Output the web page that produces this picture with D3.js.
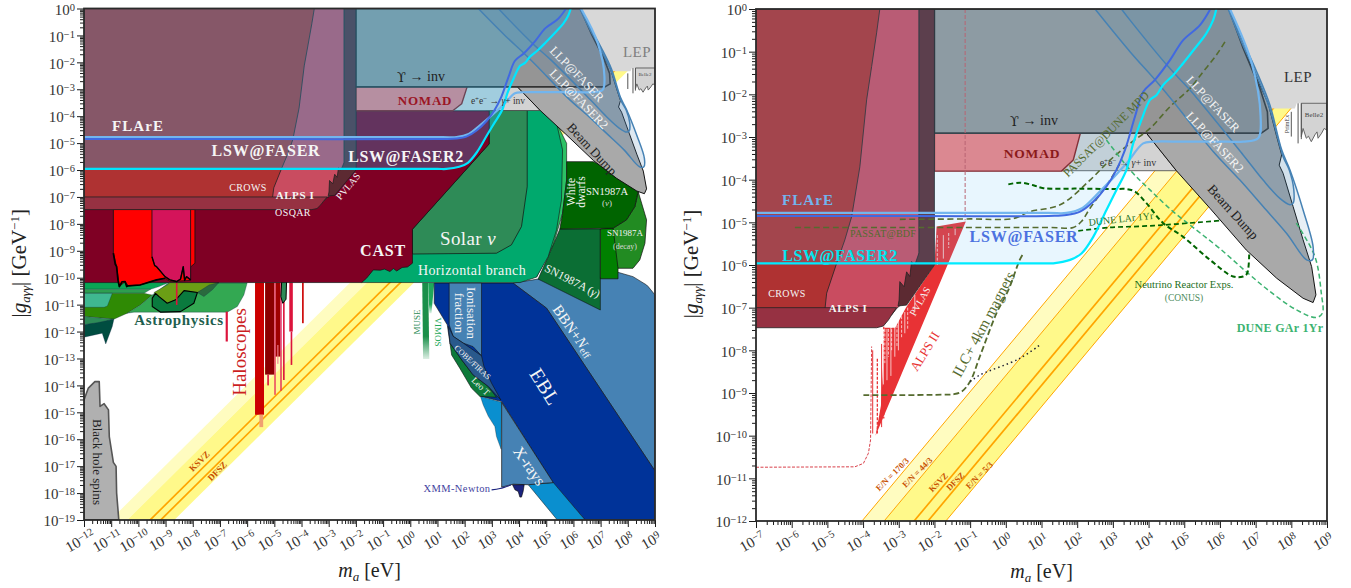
<!DOCTYPE html>
<html><head><meta charset="utf-8">
<script src="https://cdn.jsdelivr.net/npm/d3@7/dist/d3.min.js"></script>
<style>html,body{margin:0;padding:0;background:#fff}svg{display:block}text{font-family:"Liberation Serif",serif}</style>
</head><body><svg id="c" width="1351" height="588"></svg>
<script>
// All coordinates are [log10(m_a/eV), log10(g/GeV^-1)]
const xDecadesLeft=[-12,9], yDecadesLeft=[0,-19], xDecadesRight=[-7,9], yDecadesRight=[0,-12];
const qcdOffsets={e170:-7.97,e44:-8.59,ksvz:-9.43,dfsz:-9.82,e5:-10.32};

const crows=[[-12,0],[-3.53,0],[-3.62,-.56],[-3.76,-1.35],[-3.9,-2.13],[-4.09,-3.7],[-4.32,-4.87],[-4.51,-5.41],[-4.74,-5.96],[-5.02,-6.66],[-5.11,-7.37],[-5.39,-7.17],[-5.77,-7.05],[-6.33,-7.03],[-12,-7.03]];
const alpsI=[[-12,0],[-2.43,0],[-2.43,-6],[-2.9,-6.9],[-3.06,-7.02],[-3.2,-7.17],[-3.53,-7.19],[-12,-7.19]];
const osqar=[[-12,-7],[-3.06,-7],[-3.2,-7.17],[-3.29,-7.29],[-3.43,-7.43],[-3.62,-7.47],[-12,-7.47]];
const pvlas=[[-3.02,-6.96],[-2.99,-6.82],[-2.97,-6.39],[-2.85,-6.51],[-2.78,-6.16],[-2.69,-6.27],[-2.64,-5.92],[-2.55,-6],[-2.43,-5.71],[-2.43,0],[-2,0],[-2,-6],[-2.78,-6.94]];
const cast=[[-12,-7.4],[-3,-7],[-2,-6],[-2,-3.8],[2.9,-3.8],[2.9,-5.03],[.08,-8.2],[.08,-9.46],[-.1,-9.6],[-.3,-9.62],[-.5,-9.75],[-.62,-9.66],[-.75,-9.77],[-.95,-9.68],[-1.1,-9.72],[-1.36,-9.71],[-1.61,-10.02],[-1.79,-10.18],[-12,-10.18]];
const solar=[[.08,-8.2],[2.9,-5.03],[2.9,-3.77],[4.3,-3.77],[4.3,-6.62],[4.09,-8.1],[3.72,-8.78],[3.17,-9.09],[.08,-9.12]];
const horizontalBranch=[[-1.79,-10.18],[4.03,-10.18],[4.64,-9.98],[5.07,-9.22],[5.38,-8.22],[5.56,-7.11],[5.6,-5.25],[5.38,-4.26],[5.01,-3.83],[4.77,-3.64],[2.9,-3.64]];
const whiteDwarfs=[[4.64,-9.98],[5.26,-8.78],[5.6,-7.61],[5.75,-6.37],[5.75,-5.01],[5.38,-4.26],[5,-5],[5,-9]];
const snNu=[[5.75,-5.69],[6.73,-5.69],[7.58,-6.06],[8.38,-6.8],[8.26,-7.36],[7.95,-7.85],[7.46,-8.16],[5.5,-8.19],[5.6,-7.61],[5.75,-6.37]];
const snGamma=[[5.5,-8.19],[6.99,-8.19],[6.99,-11.2],[4.7,-10.05],[5.26,-8.78]];
const snDecayInner=[[6.99,-8.19],[7.46,-8.16],[7.64,-9.65],[7.64,-10.04],[6.99,-10.04]];
const snDecayOuter=[[8.38,-6.8],[8.69,-7.85],[8.63,-8.72],[8.44,-9.34],[8.19,-9.65],[7.64,-9.65],[7.27,-8.72],[7,-8.19],[7.46,-8.16],[7.95,-7.85],[8.26,-7.36]];
const bbn=[[3.78,-10.2],[5.01,-11.13],[8.99,-17.16],[9,-10.64],[8.75,-10.33],[8.69,-10.27],[8.19,-9.96],[7.64,-9.8],[7,-10],[4.7,-10.05]];
const ebl=[[.88,-10.2],[.88,-10.95],[1.36,-11.75],[1.46,-12.43],[2.62,-14.41],[3.36,-14.6],[5.26,-17.63],[6.42,-18.99],[9,-18.99],[8.99,-17.16],[5.01,-11.13],[3.78,-10.2]];
const ionisation=[[1.43,-10.2],[2.62,-10.2],[2.62,-12.9],[2.31,-12.56],[1.95,-12.43],[1.58,-12.18],[1.43,-11.75]];
const cobe=[[1.4,-11.81],[1.58,-12.18],[1.95,-12.43],[2.62,-12.9],[2.71,-13.3],[2.99,-13.92],[3.33,-14.54],[2.87,-14.04],[2.31,-13.61],[1.89,-13.05],[1.46,-12.43]];
const leoT=[[1.46,-12.43],[1.89,-13.05],[2.31,-13.61],[2.87,-14.04],[3.17,-14.44],[2.56,-14.41],[2.25,-14.1],[1.82,-13.36],[1.52,-12.87]];
const xrays=[[3.36,-14.63],[5.26,-17.61],[4.34,-17.69],[3.78,-17.67],[3.36,-17.78]];
const xrayBlueA=[[2.58,-14.41],[3.36,-14.63],[3.34,-16.37],[3.17,-15.9],[3.11,-15.53],[2.87,-15.15],[2.68,-14.72]];
const xrayBlueB=[[4.34,-17.69],[5.26,-17.61],[6.42,-18.99],[5.4,-18.99]];
const xmm=[[3.76,-17.69],[3.85,-17.88],[3.97,-17.94],[4.03,-18.15],[4.09,-18.15],[4.15,-17.94],[4.19,-17.69]];
const xmmLeader=[[2.99,-17.88],[3.3,-17.83],[3.7,-17.7]];
const muse=[[.44,-10.2],[.66,-10.2],[.7,-13.02],[.47,-13.02]];
const vimos=[[.66,-10.2],[.88,-10.2],[.78,-11.32],[.7,-11.32]];
const astroBand1=[[-12,-10.18],[-8.875,-10.18],[-9.24,-10.33],[-9.55,-10.43],[-12,-10.43]];
const astroBand2=[[-12,-10.43],[-9.55,-10.43],[-9.79,-10.58],[-12,-10.58]];
const astroOlive=[[-12,-10.58],[-9.79,-10.58],[-9.49,-10.64],[-9.92,-11.01],[-10.41,-11.32],[-10.9,-11.54],[-12,-11.44]];
const astroTeal=[[-12,-10.58],[-10.96,-10.58],[-11.14,-11.05],[-11.26,-11.1],[-12,-11.1]];
const astroGreen=[[-10.41,-11.32],[-10.16,-11.28],[-6.73,-11.28],[-6.36,-11.07],[-6.12,-10.64],[-6,-10.2],[-8.9,-10.2],[-9.49,-10.64],[-9.92,-11.01]];
const astroLime=[[-9.43,-10.55],[-8.94,-10.27],[-8.84,-10.18],[-7.04,-10.18],[-7.47,-10.39],[-7.83,-10.55],[-8.32,-10.48],[-8.63,-10.82],[-8.94,-10.95],[-9.24,-10.7]];
const astroDark=[[-9.37,-10.58],[-9.49,-10.76],[-9.49,-11.07],[-9.18,-11.28],[-8.45,-11.26],[-7.96,-10.95],[-7.83,-10.55],[-8.32,-10.48],[-8.63,-10.82],[-8.94,-10.95],[-9.24,-10.7]];
const astroForest=[[-7.83,-10.55],[-7.4,-10.27],[-7.04,-10.18],[-7.28,-10.45],[-7.59,-10.7]];
const astroLow1=[[-12,-11.44],[-10.9,-11.54],[-11.39,-11.69],[-12,-11.75]];
const astroLow2=[[-12,-11.75],[-11.51,-11.67],[-10.9,-11.54],[-10.96,-11.81],[-11.2,-12.46],[-11.33,-12.06],[-12,-12.21]];
const haloFill=[[-4.73,-10.14],[-4.55,-10.14],[-4.57,-10.8],[-4.69,-10.95],[-4.76,-10.7]];
const redRegion=[[-10.92,-7.46],[-7.92,-7.46],[-7.92,-9.46],[-8.08,-9.6],[-8.08,-10.1],[-8.84,-10.14],[-9.02,-10.02],[-9.33,-10.08],[-9.94,-10.27],[-10.37,-10.3],[-10.49,-10.14],[-10.7,-10.33],[-10.8,-9.59],[-10.92,-9.09]];
const redNoise=[[-10.92,-9.09],[-10.85,-9.5],[-10.8,-9.59],[-10.75,-10.1],[-10.7,-10.33],[-10.6,-10.15],[-10.49,-10.14],[-10.43,-10.33],[-10.37,-10.3],[-9.94,-10.27],[-9.33,-10.08],[-9.02,-10.02]];
const magentaRegion=[[-9.5,-7.46],[-8.08,-7.46],[-8.08,-10.08],[-8.23,-9.96],[-8.3,-10.1],[-8.35,-9.59],[-8.45,-10.05],[-8.59,-10.14],[-8.84,-10.08],[-9.02,-9.96],[-9.33,-9.59],[-9.4,-9.55],[-9.5,-9.22]];
const haloLines=[[-8.62,-8.56,-10.18,-11.01,"#dc143c"],[-6.79,-6.71,-11.26,-12.37,"#dc143c"],[-5.71,-5.38,-10.18,-15.09,"#cc0000"],[-5.55,-5.41,-15.09,-15.55,"#f0a070"],[-5.34,-5,-10.18,-13.6,"#8b0000"],[-5.26,-5.2,-13.6,-14,"#dc143c"],[-5,-4.95,-10.18,-14.35,"#e8305a"],[-4.95,-4.78,-10.18,-12.93,"#a00000"],[-4.89,-4.85,-12.5,-13.2,"#f08090"],[-4.78,-4.73,-10.18,-14.2,"#e0205a"],[-4.68,-4.62,-10.18,-13.8,"#dc143c"],[-4.45,-4.32,-10.18,-12,"#dc143c"],[-4.4,-4.34,-12,-13.24,"#dc143c"],[-3.98,-3.92,-10.18,-11.69,"#cc0000"]];
const blackHole=[[-12,-19],[-12,-14.54],[-11.84,-14.1],[-11.6,-13.86],[-11.44,-13.86],[-11.41,-14.78],[-11.26,-14.68],[-11.1,-14.91],[-11.07,-15.9],[-10.92,-16.86],[-10.82,-17.01],[-10.8,-18],[-10.72,-19]];

const upsilon=[[-2,0],[6.25,0],[6.65,-.92],[7.12,-1.86],[7.33,-2.41],[7.35,-2.8],[7.16,-2.91],[-2,-2.91]];
const lep=[[4,0],[9,0],[9,-2.21],[8.15,-2.21],[8.1,-2.33],[7.4,-2.33],[7,-2]];
const eeInv=[[-2,-2.91],[3.94,-2.91],[4.78,-3.79],[-2,-3.79]];
const nomad=[[-2,-2.91],[2.09,-2.91],[1.89,-3.54],[1.56,-3.8],[-2,-3.8]];
const beamDump=[[3.94,-2.91],[4.78,-3.79],[5.72,-4.67],[6.74,-5.65],[7.59,-6.31],[8.33,-6.78],[8.61,-6.88],[8.69,-6.7],[8.57,-6.04],[8.33,-5.41],[8.05,-4.63],[7.77,-3.85],[7.66,-3.66],[7.73,-3.42],[7.59,-2.99],[7.35,-2.21],[6.65,-.92],[6.25,0],[3.94,0]];
const belle2=[[8.28,-2.21],[9,-2.21],[9,-2.84],[8.92,-2.8],[8.85,-2.91],[8.75,-3.03],[8.72,-2.88],[8.66,-2.95],[8.56,-3.11],[8.48,-2.98],[8.42,-3.03],[8.33,-2.8],[8.28,-2.99]];
const primExLines=[[8,-2.41,-2.99],[8.19,-2.21,-3.15],[8.28,-2.21,-3.05]];

const lswFaser2=[[-12,-5.96],[-5,-5.96],[1,-5.96],[1.33,-5.96],[1.8,-5.88],[2.12,-5.73],[2.45,-5.34],[2.82,-4.71],[3.1,-4.24],[3.38,-3.77],[3.57,-3.15],[3.8,-2.6],[4.04,-2.13],[4.22,-2.02],[4.41,-1.78],[4.69,-1.55],[4.97,-1.27],[5.34,-.88],[5.62,-.57],[5.81,-.26],[5.9,0]];
const lswFaser=[[-12,-4.85],[-5,-4.85],[1.2,-4.85],[1.7,-4.83],[2.08,-4.75],[2.45,-4.52],[2.82,-4.16],[3.1,-3.77],[3.34,-3.3],[3.62,-2.52],[3.85,-1.94],[4.18,-1.66],[4.6,-1.2],[4.97,-.73],[5.44,-.38],[5.72,-.02]];
const flare=[[-12,-4.78],[-5,-4.78],[1.2,-4.78],[1.7,-4.78],[2.15,-4.66],[2.55,-4.35],[3.38,-3.62],[3.85,-3.15],[4.13,-3.11],[5,-3.11],[6.2,-3.11],[6.65,-3.11],[7.07,-3.03],[7.14,-2.52],[6.89,-1.27],[6.28,0]];
const llpFaser2=[[2.5,0],[3.48,-1],[4.18,-1.66],[4.69,-2.17],[5.81,-3.34],[6.56,-4.01],[7.21,-4.63],[7.87,-5.26],[8.43,-5.88],[8.59,-5.88],[8.61,-5.57],[8.33,-4.71],[7.96,-3.77],[7.73,-3.3],[7.4,-2.25],[7.03,-1.47],[6.65,-.77],[6.25,0]];
const llpFaser=[[3.24,0],[3.48,-.26],[4.55,-1.35],[5.16,-1.9],[6.65,-3.42],[7.21,-4.01],[7.68,-4.44],[7.96,-4.59],[8.05,-4.55],[8.07,-4.24],[7.94,-3.77],[7.77,-3.46],[7.38,-2.3],[7,-1.5],[6.62,-.8],[6.23,0]];
const conus=[[.07,-4.11],[.4,-4.07],[.77,-4.13],[1.05,-4.2],[2,-4.21],[3,-4.22],[3.38,-4.22],[3.62,-4.28],[3.94,-4.55],[4.41,-5.02],[4.97,-5.34],[5.72,-5.88],[6.37,-6.27],[6.65,-6.27],[6.76,-6.2],[6.82,-5.73]];
const duneLAr=[[2.03,-5.2],[2.92,-5.12],[3.85,-5.09],[4.78,-5.04],[5.99,-4.96]];
const passatDune=[[-2.97,-4.93],[-1,-4.92],[.21,-4.91],[.67,-4.75],[1.52,-4.59],[2.36,-4.01],[2.92,-3.54],[3.48,-3.15],[4.04,-2.8],[4.6,-2.29],[5.16,-1.86],[5.53,-1.47],[5.9,-1.08],[6.14,-.77]];
const passatBdf=[[-5.91,-5.12],[-3,-5.12],[1.2,-5.12],[1.89,-5.12],[2.12,-4.98],[2.36,-4.67],[2.92,-4.01],[3.2,-3.62]];
const ilc=[[-3.99,-9.05],[-3,-9.05],[-1.8,-9.04],[-1.47,-9.03],[-1.24,-8.97],[-1,-8.73],[-.73,-8.15],[-.26,-7.13],[.07,-6.59],[.39,-5.88],[.49,-5.73]];
const ilcDotted=[[-1,-8.73],[-.73,-8.58],[.39,-8.19],[.96,-7.87]];
const duneGAr=[[2.82,-3.07],[3.52,-3.81],[4.04,-4.24],[4.69,-4.75],[5.34,-5.18],[5.99,-5.61],[6.74,-6.16],[7.4,-6.62],[8.14,-7.05],[8.7,-7.23],[8.87,-7.13],[8.84,-6.66],[8.66,-5.8],[8.14,-5.02]];
const alpsIICurve=[[-7,-10.74],[-4.23,-10.73],[-3.99,-10.65],[-3.85,-10.41],[-3.79,-10.1],[-3.76,-7.91]];
const alpsIIBody=[[-3.65,-10],[-1.12,-4.98],[-1.94,-5.1],[-2,-6],[-2.8,-7],[-3.1,-7.47],[-3.4,-7.47],[-3.45,-8.6],[-3.5,-9.3]];
const alpsIISpikes=[[-3.73,-8.0,-9.95],[-3.6,-8.2,-9.95],[-3.48,-7.85,-9.8],[-3.42,-7.45,-9.6]];
const alpsIIGaps=[[-3.43,-7.5,-8.8],[-3.39,-7.5,-8.3],[-3.33,-7.5,-8.7],[-3.29,-7.5,-8.15],[-3.22,-7.4,-8.6],[-3.2,-7.4,-8.0],[-3.11,-7.3,-8.15],[-3.05,-7.3,-7.9],[-3.01,-7.2,-8.0],[-2.92,-7.2,-7.7],[-2.83,-7.1,-7.6],[-2.75,-7,-7.5],[-2.55,-6.7,-7.1],[-1.92,-5.3,-6],[-1.75,-5.3,-5.85],[-1.6,-5.25,-5.6],[-1.42,-5.15,-5.3]];
const alpsIIDashed=[[-1.14,0],[-1.14,-4.95]];

const svg=d3.select("#c");
const defs=svg.append("defs");
const fade=(id,c)=>{const g=defs.append("linearGradient").attr("id",id).attr("x1",0).attr("x2",0).attr("y1",0).attr("y2",1);
 g.append("stop").attr("offset","70%").attr("stop-color",c);g.append("stop").attr("offset","100%").attr("stop-color",c).attr("stop-opacity",.15);};
fade("fadeMuse","#1a8f4a");fade("fadeVimos","#1fa85a");

function panel(id,[x0,x1],[y0,y1],xd,yd){
 const x=d3.scaleLog().domain([10**xd[0],10**xd[1]]).range([x0,x1]);
 const y=d3.scaleLog().domain([10**yd[0],10**yd[1]]).range([y0,y1]);
 defs.append("clipPath").attr("id",id).append("rect").attr("x",x0).attr("y",y0).attr("width",x1-x0).attr("height",y1-y0);
 const root=svg.append("g"), g=root.append("g").attr("clip-path",`url(#${id})`);
 const pts=a=>a.map(([m,v])=>[x(10**m),y(10**v)]);
 const api={x,y,g,root,pts,
  poly(a,fill,stroke="#000",sw=.6,op=1,curve=d3.curveLinear){g.append("path").attr("d",d3.line().curve(curve)(pts(a))+"Z").attr("fill",fill).attr("fill-opacity",op).attr("stroke",stroke).attr("stroke-width",sw).attr("stroke-linejoin","round");},
  line(a,c,w,dash,curve=d3.curveCatmullRom.alpha(.5)){g.append("path").attr("d",d3.line().curve(curve)(pts(a))).attr("fill","none").attr("stroke",c).attr("stroke-width",w).attr("stroke-dasharray",dash||null).attr("stroke-linejoin","round");},
  text(html,px,py,size,fill,opt={}){root.append("text").attr("transform",`translate(${px},${py}) rotate(${opt.r||0})`).attr("text-anchor",opt.a||"middle").attr("dominant-baseline","middle").attr("font-size",size).attr("fill",fill).attr("font-weight",opt.b?"bold":"normal").attr("font-style",opt.i?"italic":"normal").attr("letter-spacing",opt.ls||0).html(html);},
  band(edges){
   const m=[xd[0]-1,xd[1]+1], seg=o=>m.map(v=>[v,v+o]);
   api.poly([...seg(qcdOffsets.e170),...seg(qcdOffsets.e44).reverse()],"#fffcc0","none",0);
   api.poly([...seg(qcdOffsets.e44),...seg(qcdOffsets.e5).reverse()],"#fff98a","none",0);
   if(edges){[qcdOffsets.e170,qcdOffsets.e44,qcdOffsets.e5].forEach(o=>api.line(seg(o),"#ffa500",1,null,d3.curveLinear));}
   [qcdOffsets.ksvz,qcdOffsets.dfsz].forEach(o=>api.line(seg(o),"#ffa500",1.7,null,d3.curveLinear));
  },
  axes(){
   const maj=d3.range(Math.min(...xd),Math.max(...xd)+1), majY=d3.range(yd[1],yd[0]+1);
   const minor=r=>r.slice(0,-1).flatMap(d=>d3.range(2,10).map(k=>k*10**d));
   const sup=d=>`10<tspan dy="-4" font-size="10.5">${String(d).replace("-","−")}</tspan>`;
   const ax=root.append("g").attr("transform",`translate(0,${y1})`);
   ax.call(d3.axisBottom(x).tickValues(minor(maj)).tickSize(4).tickFormat(""));
   const ax2=root.append("g").attr("transform",`translate(0,${y1})`);
   ax2.call(d3.axisBottom(x).tickValues(maj.map(d=>10**d)).tickSize(7).tickFormat(""));
   ax2.selectAll(".tick text").each(function(v){d3.select(this).attr("y",0).attr("dy",0).attr("text-anchor","middle").attr("font-size",15).attr("fill","#333").attr("font-family","Liberation Serif").attr("transform",`translate(-2,25) rotate(-30)`).html(sup(Math.round(Math.log10(v))));});
   const ay=root.append("g").attr("transform",`translate(${x0},0)`);
   ay.call(d3.axisLeft(y).tickValues(minor(majY)).tickSize(4).tickFormat(""));
   const ay2=root.append("g").attr("transform",`translate(${x0},0)`);
   ay2.call(d3.axisLeft(y).tickValues(majY.map(d=>10**d)).tickSize(7).tickFormat(""));
   ay2.selectAll(".tick text").each(function(v){d3.select(this).attr("x",-9).attr("dy","0.38em").attr("text-anchor","end").attr("font-size",15).attr("fill","#333").attr("font-family","Liberation Serif").html(sup(Math.round(Math.log10(v))));});
   root.selectAll(".domain").remove();
   root.selectAll(".tick line").attr("stroke","#000").attr("stroke-width",.9);
   root.append("rect").attr("x",x0).attr("y",y0).attr("width",x1-x0).attr("height",y1-y0).attr("fill","none").attr("stroke","#2a2a2a").attr("stroke-width",1.8);
   root.append("text").attr("transform",`translate(${x0-58},${(y0+y1)/2-1}) rotate(-90)`).attr("text-anchor","middle").attr("font-size",21).attr("fill","#222")
    .html(`|<tspan font-style="italic">g</tspan><tspan dy="4" font-size="13" font-style="italic">aγγ</tspan><tspan dy="-4">| [GeV</tspan><tspan dy="-7" font-size="13">−1</tspan><tspan dy="7">]</tspan>`);
   root.append("text").attr("transform",`translate(${(x0+x1)/2+0},${y1+57})`).attr("text-anchor","middle").attr("font-size",20).attr("fill","#222")
    .html(`<tspan font-style="italic">m</tspan><tspan dy="4" font-size="13" font-style="italic">a</tspan><tspan dy="-4"> [eV]</tspan>`);
  },
  common(){
   api.poly(lep,"#d8d8d8","none",0);
   api.poly(belle2,"#d3d3d3","#666",1);
   primExLines.forEach(([m,a,b])=>api.line([[m,a],[m,b]],"#555",1,null,d3.curveLinear));
   api.poly(eeInv,"#d3d3d3","#444",.8);
   api.poly(beamDump,"#a9a9a9","#111",1,1,d3.curveLinear);
   api.poly(nomad,"#f07f80","#8b1a1a",1.4);
   api.poly(upsilon,"#959595","#333",1.6);
   api.poly(crows,"#af3232","#222",.8);
  }
 };
 return api;
}
const UPS='<tspan font-family="DejaVu Serif" font-size="13">ϒ</tspan> → inv';

// ---------- LEFT ----------
const L=panel("clipL",[84,655],[8.5,520],xDecadesLeft,yDecadesLeft);
L.band(false);
L.poly(blackHole,"#b0b0b0","#555",1.6);
[[astroBand1,"#09a555"],[astroBand2,"#2e9e4f"],[astroOlive,"#2f8a04"],[astroTeal,"#3fb890"],[astroGreen,"#33a852"],[astroLime,"#6b9e15"],[astroForest,"#2a6a3e"],[astroLow1,"#2e8b57"],[astroLow2,"#004d40"]].forEach(([a,c])=>L.poly(a,c,"#124",.3));
L.poly(astroDark,"#0a7a3e","#000",1.1);
haloLines.forEach(([a,b,t,u,c])=>L.g.append("rect").attr("x",L.x(10**a)).attr("width",L.x(10**b)-L.x(10**a)).attr("y",L.y(10**t)).attr("height",L.y(10**u)-L.y(10**t)).attr("fill",c));
L.poly(haloFill,"#2e8b57","#000",1);
L.poly(muse,"url(#fadeMuse)","none",0);L.poly(vimos,"url(#fadeVimos)","none",0);
L.poly(bbn,"#4682b4","#111",.6);
L.poly(ebl,"#003399","#111",.6);
L.poly(ionisation,"#4682b4","#111",.6);
L.poly(xrayBlueA,"#0a8fcf","#111",.3);L.poly(xrayBlueB,"#0a8fcf","#111",.5);
L.poly(xrays,"#4682b4","#111",.7);
L.poly(leoT,"#0d7a3a","#111",.6);L.poly(cobe,"#29598c","#111",.6);
L.poly(xmm,"#1a237e","#000",.6);L.line(xmmLeader,"#1a237e",1.2);
L.poly(whiteDwarfs,"#2cc265","#111",.6);
L.poly(snGamma,"#0b6e34","#111",.6);
L.poly(horizontalBranch,"#00a96d","#111",.6);
L.poly(snDecayOuter,"#228b22","#111",.7);L.poly(snDecayInner,"#008000","#111",.7);
L.poly(snNu,"#006400","#111",.7);
L.poly(solar,"#2e8b57","#111",.7);
L.poly(cast,"#7f0024","#111",.7);
L.poly(redRegion,"#ff0000","#111",.8);
L.poly(magentaRegion,"#d4145a","#111",.8);
L.line(redNoise,"#000",1.7,null,d3.curveLinear);
L.line(magentaRegion.slice(2,13),"#000",1.4,null,d3.curveLinear);
L.common();
L.poly(alpsI,"#c94c60","#222",.8);
L.poly(crows,"#af3232","#222",.8);
L.poly(osqar,"#963142","#222",.8);
L.poly(pvlas,"#5c2a32","#222",.8);
L.poly([...lswFaser2,[-12,0]],"#1bbefa","none",0,.27);
L.poly(llpFaser2,"#4682b4","none",0,.18);L.poly(llpFaser,"#4682b4","none",0,.18);
L.line(llpFaser2,"#4682b4",1.5);L.line(llpFaser,"#4682b4",1.5);
L.line(flare,"#72b5ee",2.2);L.line(lswFaser,"#4169e1",2);L.line(lswFaser2,"#00e5ff",2.2);
L.axes();
const W="#f5f5f5";
L.text("FLArE",138,128,15,W,{b:1,ls:1.1});
L.text("LSW@FASER",266,152,16,W,{b:1,ls:.8});
L.text("LSW@FASER2",406,158,16,W,{b:1,ls:.6});
L.text("CROWS",248,189,10,W,{ls:.4});L.text("ALPS I",295,196,11,W,{b:1,ls:.6});L.text("OSQAR",293,214,10,W,{ls:.4});
L.text("PVLAS",349,187,10,W,{r:-50});L.text("CAST",383,252,16,W,{b:1,ls:.8});
L.text('Solar <tspan font-style="italic">ν</tspan>',468,241,19,W,{ls:.4});L.text("Horizontal branch",472,272,14,W,{ls:.4});
L.text("White",572,192,11.5,W,{r:-90});L.text("dwarfs",582,192,11.5,W,{r:-90});
L.text("SN1987A",607,193,10.5,W);L.text('(<tspan font-style="italic">ν</tspan>)',607,204,9,"#d8d8d8");
L.text("SN1987A",625,234,9,W);L.text("(decay)",625,247,8,"#d8d8d8");
L.text('SN1987A (<tspan font-style="italic">γ</tspan>)',572,282,11.5,W,{r:27});
L.text("LEP",637,54,15,"#808080",{ls:.5});L.text("Belle2",645,75,5,"#444");
L.text(UPS,421,78,14,"#222");L.text("NOMAD",425,102,13,"#9b1525",{b:1,ls:.8});
L.text('e<tspan dy="-3" font-size="7">+</tspan><tspan dy="3">e</tspan><tspan dy="-3" font-size="7">−</tspan><tspan dy="3"> → </tspan><tspan font-style="italic">γ</tspan>+ inv',498,102,9.5,"#333");
L.text("LLP@FASER",576,75,12.5,W,{r:46});L.text("LLP@FASER2",578,100,12.5,W,{r:46});
L.text("Beam Dump",591,150,13,"#222",{r:47});
L.text("Astrophysics",179,322,15,"#1f5f4f",{b:1,ls:.6});
L.text("Haloscopes",242,352,19,"#cc1f1f",{r:-90});
L.text("KSVZ",200,462,9,"#c85000",{r:-45,b:1});L.text("DFSZ",218,472,9,"#c85000",{r:-45,b:1});
L.text("Black hole spins",96,462,13,"#222",{r:90});
L.text("MUSE",418,322,9,"#2e8b57",{r:-90});L.text("VIMOS",437,332,9,"#1fa85a",{r:90});
L.text("Ionisation",470,313,13,W,{r:90});L.text("fraction",458,313,13,W,{r:90});
L.text("COBE/FIRAS",472,363,8,W,{r:43});L.text("Leo T",480,387,9,W,{r:45});
L.text("EBL",543,388,20,W,{r:58,ls:.5});
L.text('BBN+<tspan font-style="italic">N</tspan><tspan dy="3" font-size="10">eff</tspan>',572,332,15,W,{r:55});
L.text("X-rays",528,467,16,W,{r:55});L.text("XMM-Newton",457,490,10.5,"#3f3fa0",{ls:.4});

// ---------- RIGHT ----------
const R=panel("clipR",[756,1327],[9,521],xDecadesRight,yDecadesRight);
R.band(true);
R.common();
R.poly(alpsIIBody,"#e83235","none",0);
alpsIISpikes.forEach(([m,a,b],i)=>R.line([[m,a],[m,b]],"#e83235",i%2?1.3:1,i%2?"3 1.5":null,d3.curveLinear));
alpsIIGaps.forEach(([m,a,b],i)=>R.line([[m,a],[m,b]],"#fff",.7,i%2?"3 1.5":null,d3.curveLinear));
R.line(alpsIICurve,"#d9404a",1,"3 1.5",d3.curveLinear);
R.line(alpsIIDashed,"#c9565e",1,"4 2",d3.curveLinear);
R.poly(alpsI,"#c94c60","#222",.8);
R.poly(crows,"#af3232","#222",.8);
R.poly(osqar,"#963142","#222",.8);
R.poly(pvlas,"#5c2a32","#222",.8);
R.poly([...lswFaser2,[-12,0]],"#5abefa","none",0,.14);
R.poly(llpFaser2,"#4682b4","none",0,.13);R.poly(llpFaser,"#4682b4","none",0,.13);
R.line(passatDune,"#556b2f",1.6,"6 3.5");R.line(passatBdf,"#556b2f",1.6,"6 3.5");
R.line(duneGAr,"#3cb371",1.5,"5 3");
R.line(conus,"#006400",2,"5 3");R.line(duneLAr,"#006400",1.7,"5 3");
R.line(ilc,"#556b2f",1.8,"6 3");R.line(ilcDotted,"#223",1.5,"1.5 3");
R.line(llpFaser2,"#4682b4",1.5);R.line(llpFaser,"#4682b4",1.5);
R.line(flare,"#72b5ee",2.2);R.line(lswFaser,"#4169e1",2);R.line(lswFaser2,"#00ebff",2.2);
R.axes();
R.text("FLArE",808,202,15,"#72b5ee",{b:1,ls:1.1});
R.text("LSW@FASER2",840,257,16,"#00e5ee",{b:1,ls:.6});
R.text("LSW@FASER",1024,238,16,"#4c72e0",{b:1,ls:.8});
R.text("PASSAT@BDF",883,235,10,"#556b2f",{ls:.2});
R.text("CROWS",787,295,10,W,{ls:.4});R.text("ALPS I",848,309,11,W,{b:1,ls:.6});R.text("PVLAS",921,302,10,W,{r:-60});
R.text("ALPS II",926,352,13,"#e83232",{r:-58});
R.text("ILC+ 4km magnets",985,325,15,"#556b2f",{r:-62});
R.text(UPS,1034,122,14,"#222");R.text("NOMAD",1032,155,13.5,"#8b1a1a",{b:1,ls:.8});
R.text('e<tspan dy="-3" font-size="7">+</tspan><tspan dy="3">e</tspan><tspan dy="-3" font-size="7">−</tspan><tspan dy="3"> → </tspan><tspan font-style="italic">γ</tspan>+ inv',1128,164,10,"#333");
R.text("PASSAT@DUNE MPD",1107,135,12,"#556b2f",{r:-45});
R.text("LLP@FASER",1212,105,12.5,W,{r:47});R.text("LLP@FASER2",1214,143,12.5,W,{r:47});
R.text("LEP",1298,79,15,"#333",{ls:.5});R.text("Belle2",1314,115,7,"#444");R.text("PrimEx",1288,124,6,"#333",{r:-90});
R.text("Beam Dump",1232,213,13.5,"#222",{r:48});
R.text("DUNE LAr 1Yr",1121,220,10,"#1a6e1a",{r:-6});
R.text("Neutrino Reactor Exps.",1184,286,10.5,"#1a6e1a");R.text("(CONUS)",1184,299,9.5,"#4c8c5c");
R.text("DUNE GAr 1Yr",1280,329,12,"#3cb371",{b:1,ls:.3});
const O="#c85000";
R.text("E/N = 170/3",893,475,8.5,O,{r:-45,b:1});R.text("E/N = 44/3",918,473,8.5,O,{r:-45,b:1});
R.text("KSVZ",939,483,8.5,O,{r:-45,b:1});R.text("DFSZ",956,482,8.5,O,{r:-45,b:1});R.text("E/N = 5/3",980,476,8.5,O,{r:-45,b:1});
</script></body></html>
